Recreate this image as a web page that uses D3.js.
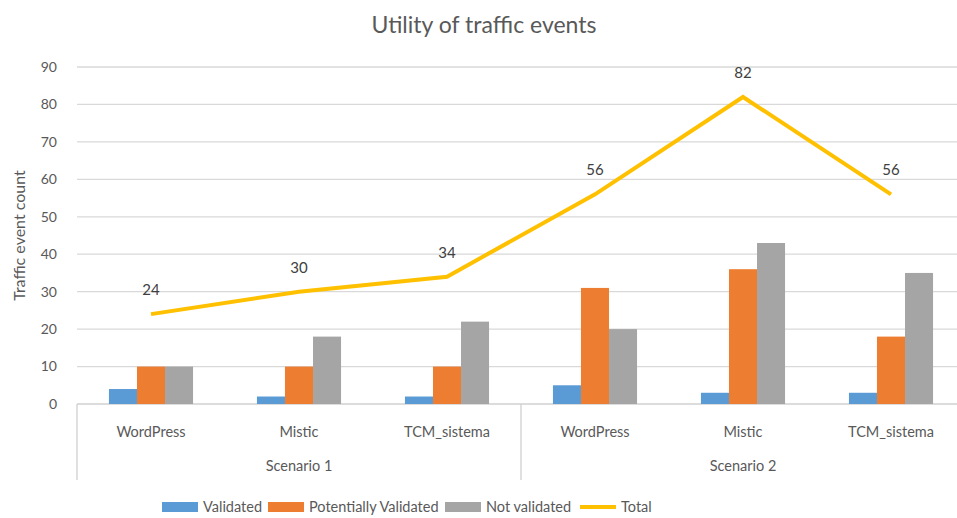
<!DOCTYPE html>
<html>
<head>
<meta charset="utf-8">
<script src="https://cdn.jsdelivr.net/npm/d3@7"></script>
<style>
  body { margin: 0; background: #fff; }
  text { font-family: Lato, "Open Sans", sans-serif; fill: #595959; }
</style>
</head>
<body>
<script>
// chart data
var scenarios = ["Scenario 1", "Scenario 2"];
var tools = ["WordPress", "Mistic", "TCM_sistema"];
var seriesNames = ["Validated", "Potentially Validated", "Not validated"];
var validated = [4, 2, 2, 5, 3, 3];
var potentially = [10, 10, 10, 31, 36, 18];
var notValidated = [10, 18, 22, 20, 43, 35];
var total = [24, 30, 34, 56, 82, 56];
var yTicks = [0, 10, 20, 30, 40, 50, 60, 70, 80, 90];

var colors = ["#5B9BD5", "#ED7D31", "#A5A5A5"];
var lineColor = "#FFC000";

var width = 957, height = 518;
var margin = {top: 67, right: -8, bottom: 114, left: 77};

var svg = d3.select("body").append("svg")
    .attr("width", width)
    .attr("height", height);

// one row per category, scenario x tool
var cats = [];
scenarios.forEach(function(s, i) {
    tools.forEach(function(t, j) {
        var k = i * tools.length + j;
        cats.push({id: k, scenario: s, tool: t,
            values: [validated[k], potentially[k], notValidated[k]],
            total: total[k]});
    });
});

var x = d3.scaleBand()
    .domain(cats.map(function(d) { return d.id; }))
    .range([margin.left, width - margin.right]);

var xInner = d3.scaleBand()
    .domain(d3.range(seriesNames.length))
    .range([0, x.bandwidth()])
    .paddingInner(0)
    .paddingOuter(1.14);

var y = d3.scaleLinear()
    .domain([0, 90])
    .range([height - margin.bottom, margin.top]);

// gridlines
svg.append("g")
    .selectAll("line")
    .data(yTicks)
    .enter().append("line")
    .attr("x1", margin.left)
    .attr("x2", width)
    .attr("y1", function(d) { return y(d); })
    .attr("y2", function(d) { return y(d); })
    .attr("stroke", function(d) { return d == 0 ? "#d0d0d0" : "#d9d9d9"; })
    .attr("stroke-width", 1.3);

// y tick labels
svg.append("g")
    .selectAll("text")
    .data(yTicks)
    .enter().append("text")
    .attr("x", 57)
    .attr("y", function(d) { return y(d); })
    .attr("dy", "0.35em")
    .attr("text-anchor", "end")
    .attr("font-size", 14)
    .text(function(d) { return d; });

// y title
svg.append("text")
    .attr("transform", "translate(25," + y(45) + ") rotate(-90)")
    .attr("text-anchor", "middle")
    .attr("font-size", 16)
    .text("Traffic event count");

// chart title
svg.append("text")
    .attr("x", 484)
    .attr("y", 33)
    .attr("text-anchor", "middle")
    .attr("font-size", 23)
    .text("Utility of traffic events");

// bars
var groups = svg.append("g")
    .selectAll("g")
    .data(cats)
    .enter().append("g")
    .attr("transform", function(d) { return "translate(" + x(d.id) + ",0)"; });

groups.selectAll("rect")
    .data(function(d) { return d.values; })
    .enter().append("rect")
    .attr("x", function(d, i) { return xInner(i); })
    .attr("width", xInner.bandwidth())
    .attr("y", function(d) { return y(d); })
    .attr("height", function(d) { return y(0) - y(d); })
    .attr("fill", function(d, i) { return colors[i]; });

// total line
var line = d3.line()
    .x(function(d) { return x(d.id) + x.bandwidth() / 2; })
    .y(function(d) { return y(d.total); });

svg.append("path")
    .datum(cats)
    .attr("d", line)
    .attr("fill", "none")
    .attr("stroke", lineColor)
    .attr("stroke-width", 4);

svg.append("g")
    .selectAll("text")
    .data(cats)
    .enter().append("text")
    .attr("x", function(d) { return x(d.id) + x.bandwidth() / 2; })
    .attr("y", function(d) { return y(d.total) - 19; })
    .attr("text-anchor", "middle")
    .attr("font-size", 15)
    .style("fill", "#404040")
    .text(function(d) { return d.total; });

// category axis
var axisBottom = y(0);
svg.append("g")
    .selectAll("text")
    .data(cats)
    .enter().append("text")
    .attr("x", function(d) { return x(d.id) + x.bandwidth() / 2; })
    .attr("y", axisBottom + 33)
    .attr("text-anchor", "middle")
    .attr("font-size", 14.5)
    .text(function(d) { return d.tool; });

svg.append("g")
    .selectAll("text")
    .data(scenarios)
    .enter().append("text")
    .attr("x", function(d, i) {
        return x(i * tools.length) + x.bandwidth() * tools.length / 2;
    })
    .attr("y", axisBottom + 67)
    .attr("text-anchor", "middle")
    .attr("font-size", 14.5)
    .text(function(d) { return d; });

// group separators
svg.append("g")
    .selectAll("line")
    .data(d3.range(scenarios.length + 1))
    .enter().append("line")
    .attr("x1", function(i) { return i < scenarios.length ? x(i * tools.length) : width - margin.right; })
    .attr("x2", function(i) { return i < scenarios.length ? x(i * tools.length) : width - margin.right; })
    .attr("y1", axisBottom)
    .attr("y2", axisBottom + 76)
    .attr("stroke", "#d0d0d0")
    .attr("stroke-width", 1.3);

// legend
var legendItems = [
    {name: seriesNames[0], color: colors[0], x: 162, type: "rect"},
    {name: seriesNames[1], color: colors[1], x: 268, type: "rect"},
    {name: seriesNames[2], color: colors[2], x: 445, type: "rect"},
    {name: "Total", color: lineColor, x: 580, type: "line"}
];

var legend = svg.append("g")
    .attr("transform", "translate(0,507)");

legendItems.forEach(function(d) {
    if (d.type == "rect") {
        legend.append("rect")
            .attr("x", d.x)
            .attr("y", -5)
            .attr("width", 36)
            .attr("height", 10)
            .attr("fill", d.color);
    } else {
        legend.append("line")
            .attr("x1", d.x)
            .attr("x2", d.x + 36)
            .attr("y1", 0)
            .attr("y2", 0)
            .attr("stroke", d.color)
            .attr("stroke-width", 4);
    }
    legend.append("text")
        .attr("x", d.x + 41)
        .attr("y", 0)
        .attr("dy", "0.35em")
        .attr("font-size", 14.5)
        .text(d.name);
});
</script>
</body>
</html>
